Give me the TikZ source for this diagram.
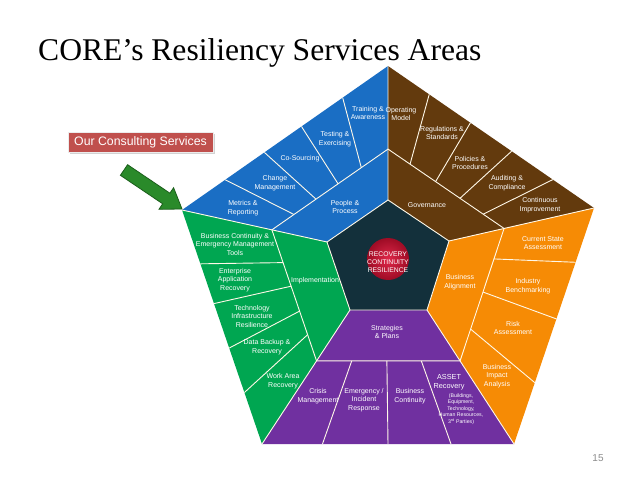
\documentclass[tikz,border=0pt]{standalone}
\usepackage{fontspec}
\setmainfont{Liberation Serif}
\newfontfamily\lab{Liberation Sans}
\usetikzlibrary{calc,shadows}
\definecolor{cblue}{HTML}{1A6EC4}
\definecolor{cbrown}{HTML}{633A0D}
\definecolor{corange}{HTML}{F68B05}
\definecolor{cgreen}{HTML}{00A651}
\definecolor{cpurple}{HTML}{7030A0}
\definecolor{ccenter}{HTML}{13303B}
\definecolor{cred}{HTML}{C0504D}
\definecolor{carrow}{HTML}{2A8A2A}
\definecolor{carrowd}{HTML}{1B5E1B}
\definecolor{sepc}{HTML}{FFF8E8}
\definecolor{redin}{HTML}{E0284A}
\definecolor{redout}{HTML}{9E0C25}
\tikzset{
  sepline/.style={draw=sepc, line width=0.9pt},
  lab/.style={font=\lab\fontsize{7}{8.5}\selectfont, text=white, align=center, inner sep=0pt},
  smalllab/.style={font=\lab\fontsize{5.2}{6.6}\selectfont, text=white, align=center, inner sep=0pt},
}
\begin{document}
\begin{tikzpicture}[x=1pt,y=-1pt]
\useasboundingbox (0,0) rectangle (638,479);
\fill[white] (0,0) rectangle (638,479);
% outer pentagon
\coordinate (A) at (388,66);
\coordinate (B) at (594,208);
\coordinate (C) at (514,444);
\coordinate (D) at (262,444);
\coordinate (E) at (182,210);
% inner pentagon
\coordinate (a) at (388,200);
\coordinate (b) at (449,241);
\coordinate (c) at (427,310);
\coordinate (d) at (350,310);
\coordinate (e) at (327,242);
% middle ring
\coordinate (ma) at ($(a)!0.38!(A)$);
\coordinate (mb) at ($(b)!0.38!(B)$);
\coordinate (mc) at ($(c)!0.38!(C)$);
\coordinate (md) at ($(d)!0.38!(D)$);
\coordinate (me) at ($(e)!0.38!(E)$);
% sectors
\fill[cblue] (E) -- (A) -- (a) -- (e) -- cycle;
\fill[cbrown] (A) -- (B) -- (b) -- (a) -- cycle;
\fill[corange] (B) -- (C) -- (c) -- (b) -- cycle;
\fill[cpurple] (C) -- (D) -- (d) -- (c) -- cycle;
\fill[cgreen] (D) -- (E) -- (e) -- (d) -- cycle;
\fill[ccenter] (a) -- (b) -- (c) -- (d) -- (e) -- cycle;
% separators
\draw[sepline] (a) -- (b) -- (c) -- (d) -- (e) -- cycle;
\draw[sepline] (a) -- (A) (b) -- (B) (c) -- (C) (d) -- (D) (e) -- (E);
\draw[sepline] (me) -- (ma) (ma) -- (mb) (mb) -- (mc) (mc) -- (md) (md) -- (me);
\foreach \o/\i in {0.21/0.19,0.40/0.38,0.58/0.57,0.78/0.77}
  \draw[sepline] ($(E)!\o!(A)$) -- ($(me)!\i!(ma)$);
\foreach \o/\i in {0.2/0.19,0.4/0.41,0.6/0.62,0.8/0.82}
  \draw[sepline] ($(A)!\o!(B)$) -- ($(ma)!\i!(mb)$);
\foreach \o/\i in {0.23/0.23,0.47/0.48,0.74/0.76}
  \draw[sepline] ($(B)!\o!(C)$) -- ($(mb)!\i!(mc)$);
\foreach \o/\i in {0.23/0.25,0.40/0.43,0.59/0.62,0.78/0.80}
  \draw[sepline] ($(E)!\o!(D)$) -- ($(me)!\i!(md)$);
\foreach \o/\i in {0.24/0.245,0.50/0.49,0.75/0.73}
  \draw[sepline] ($(D)!\o!(C)$) -- ($(md)!\i!(mc)$);
% centre disc
\shade[inner color=redin, outer color=redout] (388,259) circle[radius=21];
\node[lab, font=\lab\fontsize{6.8}{7.8}\selectfont] (core) at (388,262) {RECOVERY\\CONTINUITY\\RESILIENCE};
% blue labels
\node[lab] (l1) at (368,113) {Training \&\\Awareness};
\node[lab] (l2) at (335,139) {Testing \&\\Exercising};
\node[lab] (l3) at (300,159) {Co-Sourcing};
\node[lab] (l4) at (275,183) {Change\\Management};
\node[lab] (l5) at (243,208) {Metrics \&\\Reporting};
\node[lab] (l6) at (345,207) {People \&\\Process};
% brown labels
\node[lab] (b1) at (401,114) {Operating\\Model};
\node[lab] (b2) at (442,133) {Regulations \&\\Standards};
\node[lab] (b3) at (470,163) {Policies \&\\Procedures};
\node[lab] (b4) at (507,183) {Auditing \&\\Compliance};
\node[lab] (b5) at (540,205) {Continuous\\Improvement};
\node[lab] (b6) at (427,205) {Governance};
% orange labels
\node[lab] (o1) at (543,243) {Current State\\Assessment};
\node[lab] (o2) at (528,286) {Industry\\Benchmarking};
\node[lab] (o3) at (513,328) {Risk\\Assessment};
\node[lab] (o4) at (497,376) {Business\\Impact\\Analysis};
\node[lab] (o5) at (460,282) {Business\\Alignment};
% green labels
\node[lab] (g1) at (235,244) {Business Continuity \&\\Emergency Management\\Tools};
\node[lab] (g2) at (235,280) {Enterprise\\Application\\Recovery};
\node[lab] (g3) at (252,316) {Technology\\Infrastructure\\Resilience};
\node[lab] (g4) at (267,347) {Data Backup \&\\Recovery};
\node[lab] (g5) at (283,381) {Work Area\\Recovery};
\node[lab] (g6) at (315,281) {Implementation};
% purple labels
\node[lab] (p0) at (387,332) {Strategies\\\& Plans};
\node[lab] (p1) at (318,396) {Crisis\\Management};
\node[lab] (p2) at (364,400) {Emergency /\\Incident\\Response};
\node[lab] (p3) at (410,396) {Business\\Continuity};
\node[lab, font=\lab\fontsize{7.3}{9.5}\selectfont] (p4) at (449,382) {ASSET\\Recovery};
\node[smalllab] (p5) at (461,409) {(Buildings,\\Equipment,\\Technology,\\Human Resources,\\3\textsuperscript{rd} Parties)};
% title
\node[anchor=base west, inner sep=0pt, font=\fontsize{31.6}{36}\selectfont] (title) at (38,60) {CORE’s Resiliency Services Areas};
% consulting box
\node[fill=cred, draw=white!85!gray, line width=0.8pt, drop shadow={opacity=0.35, shadow xshift=1.5pt, shadow yshift=-1.5pt},
      minimum width=145, minimum height=20, inner sep=0pt, text=white,
      font=\lab\fontsize{12.3}{14}\selectfont] (ours) at (140.5,142) {Our Consulting Services};
% green arrow
\coordinate (t1) at (120.4,175.3);
\coordinate (t2) at (127.6,164.7);
\coordinate (s1) at (162.7,203.8);
\coordinate (s2) at (169.9,193.2);
\coordinate (h1) at (159.0,209.3);
\coordinate (h2) at (173.6,187.7);
\coordinate (tip) at (182,209);
\draw[fill=carrow, draw=carrowd, line width=0.8pt, line join=miter]
  (t1) -- (s1) -- (h1) -- (tip) -- (h2) -- (s2) -- (t2) -- cycle;
% page number
\node[font=\lab\fontsize{10}{12}\selectfont, text=black!45, inner sep=0pt] (pg) at (598,458) {15};
\end{tikzpicture}
\end{document}
